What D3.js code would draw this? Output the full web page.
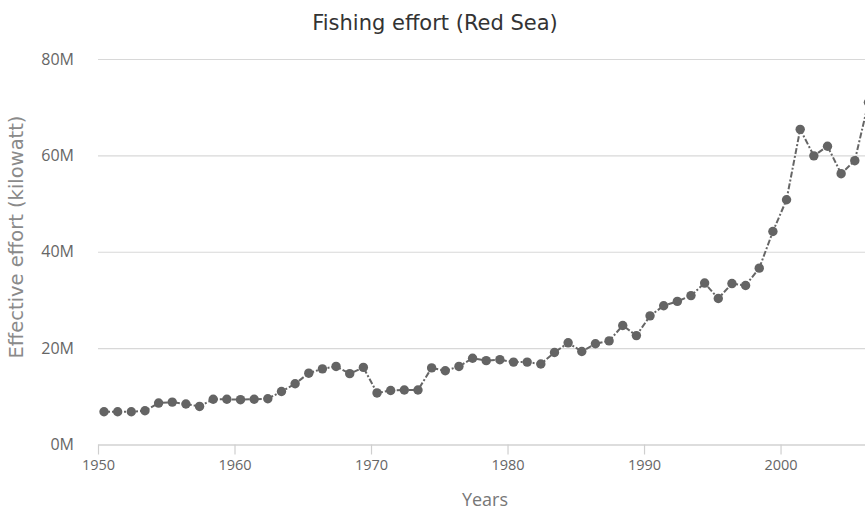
<!DOCTYPE html>
<html>
<head>
<meta charset="utf-8">
<script src="https://cdn.jsdelivr.net/npm/d3@7"></script>
<style>
	body { margin: 0; background: #fff; }
	#container { width: 865px; height: 513px; overflow: hidden; }
</style>
</head>
<body>
<div id="container"></div>
<script>
//Chart values
var years = [1950, 1951, 1952, 1953, 1954, 1955, 1956, 1957, 1958, 1959,
	1960, 1961, 1962, 1963, 1964, 1965, 1966, 1967, 1968, 1969,
	1970, 1971, 1972, 1973, 1974, 1975, 1976, 1977, 1978, 1979,
	1980, 1981, 1982, 1983, 1984, 1985, 1986, 1987, 1988, 1989,
	1990, 1991, 1992, 1993, 1994, 1995, 1996, 1997, 1998, 1999,
	2000, 2001, 2002, 2003, 2004, 2005, 2006];

//Effective effort, millions of kilowatt
var effort = [6.8, 6.8, 6.8, 7.0, 8.6, 8.8, 8.4, 7.9, 9.4, 9.4,
	9.3, 9.4, 9.5, 11.0, 12.6, 14.8, 15.7, 16.2, 14.7, 16.0,
	10.7, 11.2, 11.3, 11.3, 15.9, 15.3, 16.2, 17.9, 17.4, 17.6,
	17.1, 17.1, 16.7, 19.1, 21.1, 19.3, 20.9, 21.5, 24.7, 22.6,
	26.7, 28.8, 29.7, 30.9, 33.5, 30.3, 33.4, 33.0, 36.6, 44.2,
	50.8, 65.4, 59.9, 61.9, 56.2, 58.9, 71.0];

var xTicks = [1950, 1960, 1970, 1980, 1990, 2000];
var yTicks = [0, 20, 40, 60, 80];

var titleText = "Fishing effort (Red Sea)";
var xTitle = "Years";
var yTitle = "Effective effort (kilowatt)";

function makeChart(){
	var w = 865;
	var h = 513;
	var left = 98, right = 872, top = 59, bottom = 444.5;

	var svg = d3.select('#container')
		.append("svg")
		.attr("width", w)
		.attr("height", h);

	var xScale = d3.scaleLinear()
		.domain([1950, 2006.7])
		.range([left, right]);

	var yScale = d3.scaleLinear()
		.domain([0, 80])
		.range([bottom, top]);

	//Grid lines
	svg.append("g")
		.attr("transform", "translate(" + left + ",0)")
		.call(d3.axisLeft(yScale).tickValues(yTicks).tickSize(-(right - left)).tickFormat(""))
		.call(function(g){
			g.select(".domain").remove();
			g.selectAll("line").attr("stroke", "#d8d8d8").attr("stroke-width", 1.2);
		});

	//Y labels
	svg.selectAll("text.ylab")
		.data(yTicks)
		.enter()
		.append("text")
		.attr("class", "ylab")
		.text(function(d){ return d + "M"; })
		.attr("x", 74)
		.attr("y", function(d){ return yScale(d) + 5.5; })
		.attr("text-anchor", "end")
		.attr("font-family", "'Open Sans', sans-serif")
		.attr("font-size", "16px")
		.attr("fill", "#666");

	//X axis
	var xAxis = svg.append("g")
		.attr("transform", "translate(0," + bottom + ")")
		.call(d3.axisBottom(xScale).tickValues(xTicks).tickSize(10).tickSizeOuter(0).tickPadding(5).tickFormat(d3.format("d")));
	xAxis.select(".domain").attr("stroke", "#cfcfcf").attr("stroke-width", 1.2);
	xAxis.selectAll(".tick line").attr("stroke", "#cfcfcf").attr("stroke-width", 1.2);
	xAxis.selectAll(".tick text")
		.attr("font-family", "'Open Sans', sans-serif")
		.attr("font-size", "14.5px")
		.attr("fill", "#666");

	//Line
	var line = d3.line()
		.x(function(d, i){ return xScale(years[i] + 0.44); })
		.y(function(d){ return yScale(d); });

	svg.append("path")
		.datum(effort)
		.attr("d", line)
		.attr("fill", "none")
		.attr("stroke", "#666")
		.attr("stroke-width", 2)
		.attr("stroke-dasharray", "6,2,2,2");

	svg.selectAll("circle")
		.data(effort)
		.enter()
		.append("circle")
		.attr("cx", function(d, i){ return xScale(years[i] + 0.44); })
		.attr("cy", function(d){ return yScale(d); })
		.attr("r", 4.7)
		.attr("fill", "#646464");

	//Titles
	svg.append("text")
		.text(titleText)
		.attr("x", 435)
		.attr("y", 30)
		.attr("text-anchor", "middle")
		.attr("font-family", "'DejaVu Sans', sans-serif")
		.attr("font-size", "21px")
		.attr("fill", "#333");

	svg.append("text")
		.text(xTitle)
		.attr("x", (left + right) / 2)
		.attr("y", 506)
		.attr("text-anchor", "middle")
		.attr("font-family", "'Open Sans', sans-serif")
		.attr("font-size", "18px")
		.attr("fill", "#777");

	svg.append("text")
		.text(yTitle)
		.attr("transform", "translate(23,237) rotate(-90)")
		.attr("text-anchor", "middle")
		.attr("font-family", "'DejaVu Sans', sans-serif")
		.attr("font-size", "19.5px")
		.attr("fill", "#8a8a8a");
}

makeChart();
</script>
</body>
</html>
